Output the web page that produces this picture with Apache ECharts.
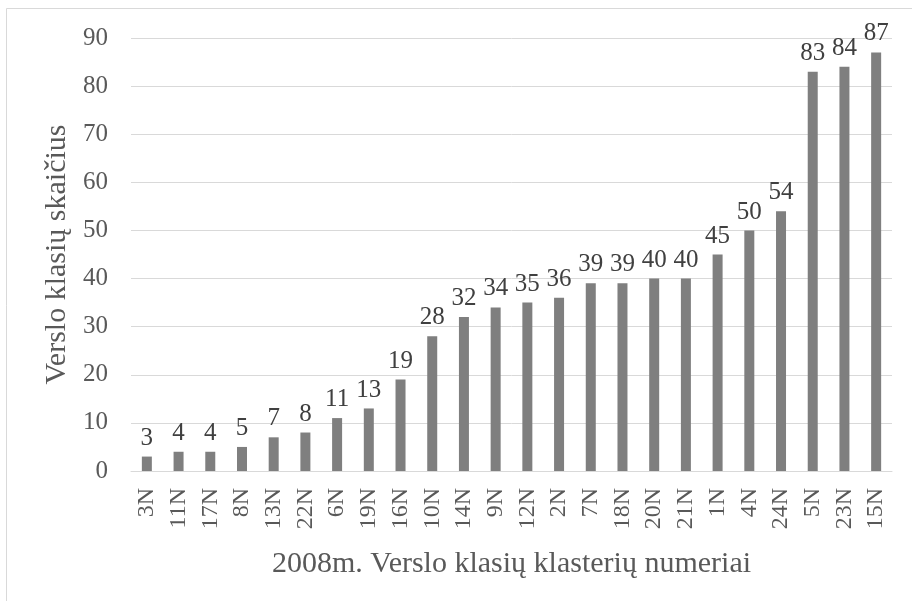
<!DOCTYPE html>
<html>
<head>
<meta charset="utf-8">
<script src="https://cdn.jsdelivr.net/npm/echarts@6/dist/echarts.min.js"></script>
<style>
    html, body { margin: 0; padding: 0; background: #fff; }
    #chart { width: 912px; height: 601px; }
</style>
</head>
<body>
<div id="chart"></div>
<script>
    // klasteriai ir ju verslo klasiu skaicius
    var categories = ['3N', '11N', '17N', '8N', '13N', '22N', '6N', '19N', '16N', '10N', '14N', '9N',
        '12N', '2N', '7N', '18N', '20N', '21N', '1N', '4N', '24N', '5N', '23N', '15N'];
    var values = [3, 4, 4, 5, 7, 8, 11, 13, 19, 28, 32, 34, 35, 36, 39, 39, 40, 40, 45, 50, 54, 83, 84, 87];
    var yTicks = [0, 10, 20, 30, 40, 50, 60, 70, 80, 90];

    var font = 'Liberation Serif';
    var textColor = '#595959';

    var chart = echarts.init(document.getElementById('chart'));
    var option = {
        backgroundColor: '#fff',
        animation: false,
        textStyle: { fontFamily: font },
        graphic: [
            {
                type: 'rect',
                shape: { x: 6.5, y: 8.5, width: 920, height: 620 },
                style: { fill: 'none', stroke: '#d9d9d9', lineWidth: 1 }
            }
        ],
        grid: {
            left: 131,
            right: 20,
            top: 38,
            bottom: 130
        },
        xAxis: {
            type: 'category',
            data: categories,
            name: '2008m. Verslo klasių klasterių numeriai',
            nameLocation: 'middle',
            nameGap: 78,
            nameTextStyle: { fontFamily: font, fontSize: 30, color: textColor },
            axisLine: { show: true, lineStyle: { color: '#d9d9d9', width: 1 } },
            axisTick: { show: false },
            axisLabel: {
                rotate: 90,
                margin: 17,
                interval: 0,
                fontFamily: font,
                fontSize: 24,
                color: textColor
            }
        },
        yAxis: {
            type: 'value',
            min: yTicks[0],
            max: yTicks[yTicks.length - 1],
            interval: 10,
            name: 'Verslo klasių skaičius',
            nameLocation: 'middle',
            nameGap: 56,
            nameTextStyle: { fontFamily: font, fontSize: 30, color: textColor },
            axisLine: { show: false },
            axisTick: { show: false },
            axisLabel: {
                margin: 23,
                fontFamily: font,
                fontSize: 25,
                color: textColor
            },
            splitLine: { lineStyle: { color: '#d9d9d9', width: 1 } }
        },
        series: [
            {
                type: 'bar',
                data: values,
                barWidth: 10,
                itemStyle: { color: '#7f7f7f' },
                label: {
                    show: true,
                    position: 'top',
                    distance: 6,
                    fontFamily: font,
                    fontSize: 25,
                    color: '#404040'
                }
            }
        ]
    };
    chart.setOption(option);
</script>
</body>
</html>
